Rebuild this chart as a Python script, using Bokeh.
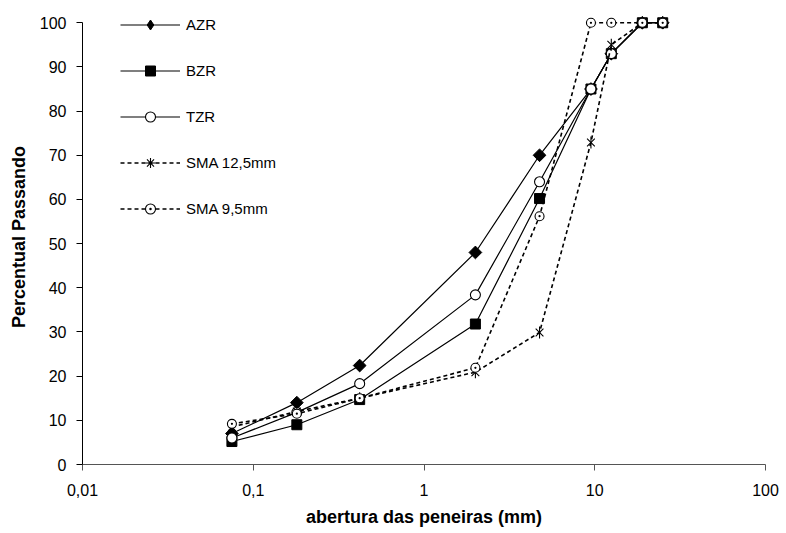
import math
from bokeh.plotting import figure
from bokeh.models import Range1d, FixedTicker, CustomJSTickFormatter, Legend, LegendItem
from bokeh.embed import file_html
from bokeh.resources import INLINE

sieves = [0.075, 0.18, 0.42, 2.0, 4.75, 9.5, 12.5, 19.0, 25.0]
azr = [7.0, 14.0, 22.4, 48.0, 70.0, 85.0, 93.0, 100.0, 100.0]
bzr = [5.2, 9.0, 14.7, 31.8, 60.2, 85.0, 93.0, 100.0, 100.0]
tzr = [6.0, 11.8, 18.3, 38.4, 64.0, 85.0, 93.0, 100.0, 100.0]
sma125 = [8.5, 12.0, 15.0, 20.9, 29.9, 72.9, 95.0, 100.0, 100.0]
sma95 = [9.2, 11.5, 15.0, 21.9, 56.2, 100.0, 100.0, 100.0, 100.0]
x_ticks = [0.01, 0.1, 1, 10, 100]
y_ticks = list(range(0, 101, 10))

FONT = "Liberation Sans"

p = figure(width=786, height=533, x_axis_type="log",
           x_range=Range1d(0.01, 100), y_range=Range1d(0, 103),
           output_backend="svg", toolbar_location=None,
           min_border_left=82, min_border_right=21, min_border_top=9, min_border_bottom=69)
p.outline_line_color = None
p.xgrid.grid_line_color = None
p.ygrid.grid_line_color = None

# legend-only markers are placed far outside the visible ranges
OFF_X, OFF_Y = [1e5], [-500]

items = []

# AZR: filled diamond (rotated square)
r1 = p.line(sieves, azr, line_color="black", line_width=1.2)
p.scatter(sieves, azr, marker="square", size=9, angle=math.pi / 4,
          fill_color="black", line_color="black", line_width=1)
lg = p.scatter(OFF_X, OFF_Y, marker="diamond", fill_color="black", line_color="black")
items.append(LegendItem(label="AZR", renderers=[r1, lg]))

# BZR: filled square
r1 = p.line(sieves, bzr, line_color="black", line_width=1.2)
r2 = p.scatter(sieves, bzr, marker="square", size=10,
               fill_color="black", line_color="black", line_width=1)
items.append(LegendItem(label="BZR", renderers=[r1, r2]))

# TZR: open circle
r1 = p.line(sieves, tzr, line_color="black", line_width=1.2)
r2 = p.scatter(sieves, tzr, marker="circle", size=10,
               fill_color="white", line_color="black", line_width=1.1)
items.append(LegendItem(label="TZR", renderers=[r1, r2]))

# SMA 12,5mm: x with vertical bar, dashed
r1 = p.line(sieves, sma125, line_color="black", line_width=1.6, line_dash="4 3")
p.scatter(sieves, sma125, marker="x", size=11, line_color="black", line_width=1.1)
p.scatter(sieves, sma125, marker="dash", size=12, angle=math.pi / 2,
          line_color="black", line_width=1.1)
lg = p.scatter(OFF_X, OFF_Y, marker="asterisk", line_color="black", line_width=1.1)
items.append(LegendItem(label="SMA 12,5mm", renderers=[r1, lg]))

# SMA 9,5mm: small open circle with dot, dashed
r1 = p.line(sieves, sma95, line_color="black", line_width=1.6, line_dash="4 3")
r2 = p.scatter(sieves, sma95, marker="circle_dot", size=9,
               fill_color="white", line_color="black", line_width=1.1)
items.append(LegendItem(label="SMA 9,5mm", renderers=[r1, r2]))

legend = Legend(items=items, location=(38, 243), padding=0, margin=0,
                glyph_width=60, glyph_height=25, spacing=21, label_standoff=6,
                border_line_color=None, background_fill_alpha=0,
                label_text_font=FONT, label_text_font_size="15px",
                label_text_color="black")
p.add_layout(legend)

for ax in (p.xaxis[0], p.yaxis[0]):
    ax.major_tick_out = 6
    ax.major_tick_in = 0
    ax.minor_tick_line_color = None
    ax.major_label_text_font = FONT
    ax.major_label_text_font_size = "16px"
    ax.major_label_text_color = "black"
    ax.axis_label_text_font = FONT
    ax.axis_label_text_font_size = "18px"
    ax.axis_label_text_font_style = "bold"
    ax.axis_label_text_color = "black"

p.xaxis.axis_line_color = "#555555"
p.xaxis.major_tick_line_color = "#555555"
p.yaxis.axis_line_color = "black"
p.yaxis.major_tick_line_color = "black"

p.xaxis.ticker = FixedTicker(ticks=x_ticks)
p.xaxis.formatter = CustomJSTickFormatter(code="return tick.toString().replace('.', ',');")
p.xaxis.axis_label = "abertura das peneiras (mm)"
p.xaxis.major_label_standoff = 13
p.xaxis.axis_label_standoff = 8

p.yaxis.ticker = FixedTicker(ticks=y_ticks)
p.yaxis.bounds = (0, 100)
p.yaxis.axis_label = "Percentual Passando"
p.yaxis.major_label_standoff = 10
p.yaxis.axis_label_standoff = 8

open("out.html", "w").write(file_html(p, INLINE))
